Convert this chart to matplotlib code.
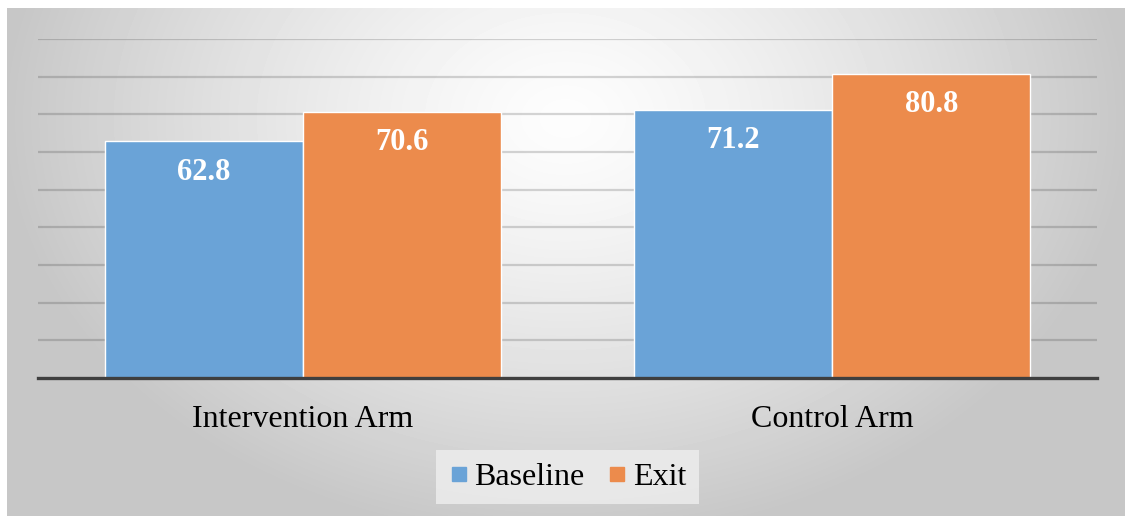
import numpy as np
import matplotlib.pyplot as plt
from matplotlib.lines import Line2D

# Données
groupes = ['Intervention Arm', 'Control Arm']
baseline = [62.8, 71.2]
exit_vals = [70.6, 80.8]
series = ['Baseline', 'Exit']

bleu = '#6AA3D7'
orange = '#EC8B4C'

plt.rcParams['font.family'] = ['Liberation Serif', 'DejaVu Serif']

fig = plt.figure(figsize=(11.25, 5.16), dpi=100)

# Fond en dégradé radial (clair au centre haut, gris sur les bords)
bg = fig.add_axes([7 / 1125, 0, 1 - 7 / 1125, 1 - 8 / 516], zorder=-5)
h, w = 508, 1118
yy, xx = np.mgrid[0:h, 0:w]
r = np.sqrt(((xx - 558) / 560) ** 2 + ((yy - 110) / 420) ** 2)
r = np.clip(r, 0, 1)
grad = (253 - 54 * r ** 1.3) / 255
bg.imshow(grad, cmap='gray', vmin=0, vmax=1, aspect='auto', interpolation='bilinear')
bg.axis('off')

ax = fig.add_axes([38 / 1125, 138 / 516, 1059 / 1125, 339 / 516])
ax.patch.set_alpha(0)

x = np.arange(len(groupes))
largeur = 0.374
b1 = ax.bar(x - largeur / 2, baseline, largeur, color=bleu, edgecolor='white', linewidth=1, zorder=3)
b2 = ax.bar(x + largeur / 2, exit_vals, largeur, color=orange, edgecolor='white', linewidth=1, zorder=3)

for barres in (b1, b2):
    for b in barres:
        ax.text(b.get_x() + b.get_width() / 2, b.get_height() - 8.2, f'{b.get_height():.1f}',
                ha='center', va='center', color='white', fontsize=22, fontweight='bold', zorder=4)

ax.set_xlim(-0.5, 1.5)
ax.set_ylim(0, 90)
ax.set_yticks(np.arange(10, 100, 10))
ax.yaxis.grid(True, color='black', alpha=0.16, linewidth=1.6, zorder=0)
ax.set_axisbelow(True)
ax.tick_params(axis='y', left=False, labelleft=False)
ax.set_xticks(x)
ax.set_xticklabels(groupes, fontsize=23)
ax.tick_params(axis='x', bottom=False, pad=16)
for s in ['top', 'right', 'left']:
    ax.spines[s].set_visible(False)
ax.spines['bottom'].set_color('#3F3F3F')
ax.spines['bottom'].set_linewidth(2.4)
ax.spines['bottom'].set_zorder(5)

poignees = [Line2D([], [], marker='s', linestyle='none', markersize=10, color=c) for c in (bleu, orange)]
leg = fig.legend(poignees, series, loc='center', bbox_to_anchor=(567.5 / 1125, 39 / 516), ncol=2,
                 fontsize=23, frameon=True, fancybox=False, handlelength=0.6, handletextpad=0.2,
                 columnspacing=0.7, borderpad=0.4)
leg.get_frame().set_facecolor('#EBEBEB')
leg.get_frame().set_edgecolor('none')
leg.get_frame().set_alpha(0.9)

fig.savefig('out.png', dpi=100)
